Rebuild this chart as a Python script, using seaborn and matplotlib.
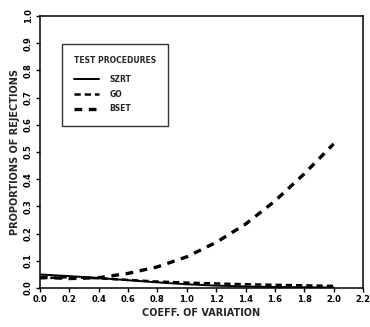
import numpy as np
import pandas as pd
import matplotlib
matplotlib.use("Agg")
import matplotlib.pyplot as plt
import seaborn as sns

# coefficient of variation and rejection proportions
cv = [0.0, 0.2, 0.4, 0.6, 0.8, 1.0, 1.2, 1.4, 1.6, 1.8, 2.0]
szrt = [0.050, 0.044, 0.037, 0.029, 0.021, 0.014, 0.009, 0.006, 0.004, 0.003, 0.002]
go = [0.036, 0.040, 0.036, 0.030, 0.024, 0.020, 0.017, 0.014, 0.012, 0.010, 0.008]
bset = [0.040, 0.035, 0.038, 0.054, 0.078, 0.115, 0.168, 0.235, 0.320, 0.420, 0.530]

x_ticks = [0.0, 0.2, 0.4, 0.6, 0.8, 1.0, 1.2, 1.4, 1.6, 1.8, 2.0, 2.2]
y_ticks = [0.0, 0.1, 0.2, 0.3, 0.4, 0.5, 0.6, 0.7, 0.8, 0.9, 1.0]

sns.set_style("ticks")
plt.rcParams['font.family'] = ['DejaVu Sans']

fig = plt.figure(figsize=(3.7, 3.27), dpi=100)
ax = fig.add_axes([0.108, 0.119, 0.873, 0.832])

df = pd.DataFrame({"cv": cv, "SZRT": szrt, "GO": go, "BSET": bset})

sns.lineplot(data=df, x="cv", y="SZRT", ax=ax, color="black", linewidth=1.4, label="SZRT")
sns.lineplot(data=df, x="cv", y="GO", ax=ax, color="black", linewidth=1.8,
             dashes=(2.5, 1.6), label="GO")
sns.lineplot(data=df, x="cv", y="BSET", ax=ax, color="black", linewidth=2.4,
             dashes=(2.3, 2.0), label="BSET")

ax.set_xlim(0, 2.2)
ax.set_ylim(0, 1.0)
ax.set_xticks(x_ticks)
ax.set_yticks(y_ticks)
ax.set_xticklabels([f"{t:.1f}" for t in x_ticks], fontsize=6, fontweight="bold")
ax.set_yticklabels([f"{t:.1f}" for t in y_ticks], fontsize=6, fontweight="bold",
                   rotation=90, va="center")
ax.tick_params(direction="out", length=3, width=1, colors="black", pad=2)
for s in ax.spines.values():
    s.set_linewidth(1.1)
    s.set_color("black")

ax.set_xlabel("COEFF. OF VARIATION", fontsize=7, fontweight="bold", labelpad=3)
ax.set_ylabel("PROPORTIONS OF REJECTIONS", fontsize=7, fontweight="bold", labelpad=3)

leg = ax.legend(title="TEST PROCEDURES", loc="upper left",
                bbox_to_anchor=(0.068, 0.897), frameon=True, fancybox=False,
                edgecolor="black", fontsize=5.5, title_fontsize=5.5,
                handlelength=3.2, borderpad=1.6, labelspacing=0.75,
                handletextpad=1.4, borderaxespad=0)
leg.get_title().set_fontweight("bold")
leg._legend_box.align = "left"
leg._legend_box.sep = 7
for t in leg.get_texts():
    t.set_fontweight("bold")
leg.get_frame().set_linewidth(1.0)

fig.savefig("out.png", dpi=100)
